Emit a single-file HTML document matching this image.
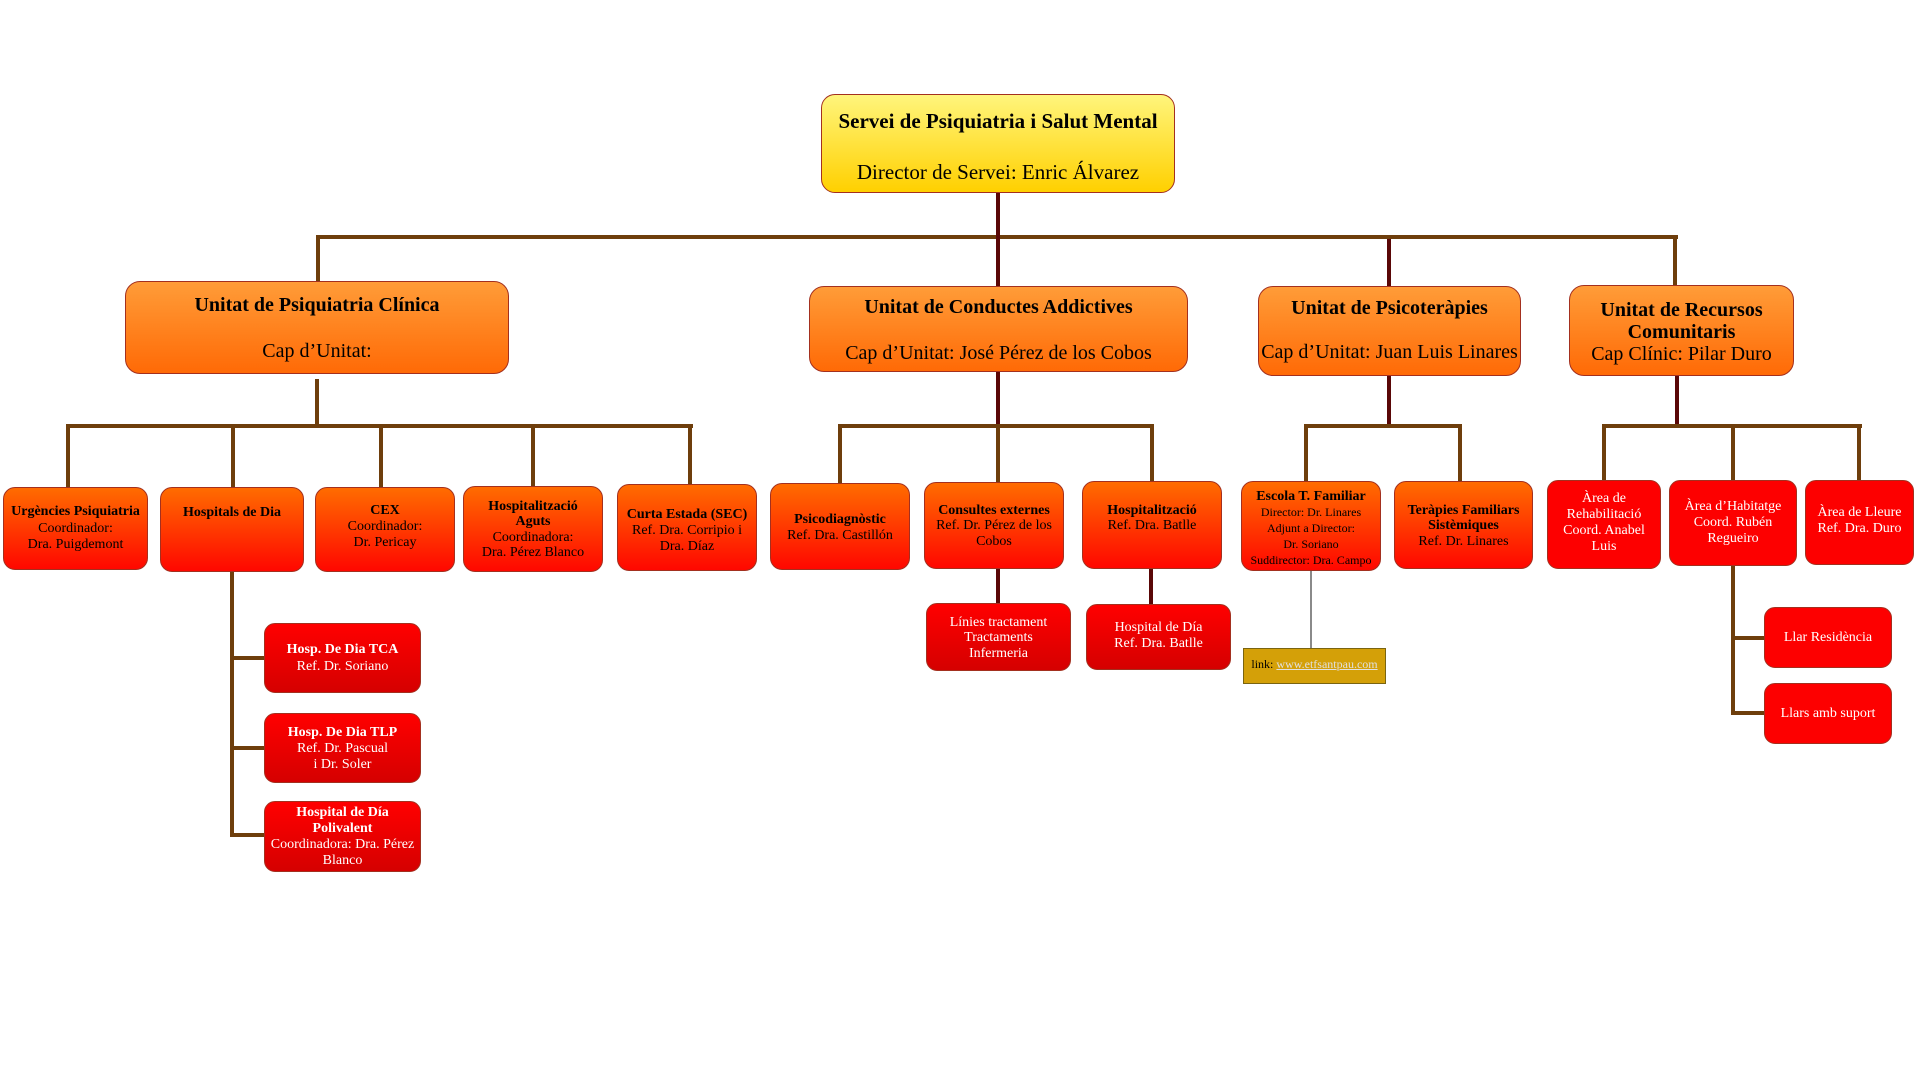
<!DOCTYPE html>
<html>
<head>
<meta charset="utf-8">
<style>
html,body{margin:0;padding:0;background:#fff;}
body{width:1920px;height:1080px;position:relative;overflow:hidden;font-family:"Liberation Serif",serif;}
.b{position:absolute;box-sizing:border-box;border:1px solid #a3301f;text-align:center;white-space:nowrap;color:#000;font-family:"Liberation Serif",serif;}
.top{background:linear-gradient(#fff57c,#ffd000);border-radius:14px;font-size:21px;line-height:25.5px;}
.l1{background:linear-gradient(#ff9c38,#ff6a06);border-radius:15px;font-size:20px;}
.l2{background:linear-gradient(#ff6c00,#ff0700);border-radius:12px;font-size:14px;line-height:16px;}
.rd{background:linear-gradient(#ff0000,#d50000);border-radius:11px;font-size:14px;line-height:16px;color:#fff;}
.rf{background:#fd0000;border-radius:11px;font-size:14px;line-height:16px;color:#fff;}
.ln{position:absolute;}
.B{background:#6e3e0c;}
.M{background:#5a0707;}
b{font-weight:bold;}
.s{font-size:12px;line-height:15.2px;}
</style>
</head>
<body>

<!-- connectors -->
<div class="ln M" style="left:996px;top:193px;width:4px;height:93px;"></div>
<div class="ln B" style="left:316px;top:235px;width:1362px;height:4px;"></div>
<div class="ln B" style="left:316px;top:235px;width:4px;height:46px;"></div>
<div class="ln B" style="left:1673px;top:235px;width:4px;height:50px;"></div>
<div class="ln M" style="left:1387px;top:239px;width:4px;height:47px;"></div>
<div class="ln M" style="left:996px;top:231px;width:4px;height:12px;"></div>

<!-- Psiquiatria children -->
<div class="ln B" style="left:315px;top:379px;width:4px;height:49px;"></div>
<div class="ln B" style="left:66px;top:424px;width:627px;height:4px;"></div>
<div class="ln B" style="left:66px;top:424px;width:4px;height:63px;"></div>
<div class="ln B" style="left:231px;top:424px;width:4px;height:63px;"></div>
<div class="ln B" style="left:379px;top:424px;width:4px;height:63px;"></div>
<div class="ln B" style="left:531px;top:424px;width:4px;height:62px;"></div>
<div class="ln B" style="left:688px;top:424px;width:4px;height:61px;"></div>

<!-- Hospitals de Dia subs -->
<div class="ln B" style="left:230px;top:571px;width:4px;height:266px;"></div>
<div class="ln B" style="left:230px;top:656px;width:35px;height:4px;"></div>
<div class="ln B" style="left:230px;top:746px;width:35px;height:4px;"></div>
<div class="ln B" style="left:230px;top:833px;width:35px;height:4px;"></div>

<!-- Conductes children -->
<div class="ln M" style="left:996px;top:372px;width:4px;height:54px;"></div>
<div class="ln B" style="left:838px;top:424px;width:316px;height:4px;"></div>
<div class="ln B" style="left:838px;top:424px;width:4px;height:59px;"></div>
<div class="ln B" style="left:996px;top:426px;width:4px;height:56px;"></div>
<div class="ln B" style="left:1150px;top:424px;width:4px;height:57px;"></div>
<div class="ln M" style="left:996px;top:568px;width:4px;height:36px;"></div>
<div class="ln M" style="left:1149px;top:568px;width:4px;height:37px;"></div>

<!-- Psicoterapies children -->
<div class="ln M" style="left:1387px;top:375px;width:4px;height:51px;"></div>
<div class="ln B" style="left:1304px;top:424px;width:158px;height:4px;"></div>
<div class="ln B" style="left:1304px;top:424px;width:4px;height:57px;"></div>
<div class="ln B" style="left:1458px;top:424px;width:4px;height:57px;"></div>
<div class="ln" style="left:1310px;top:570px;width:2px;height:79px;background:#8a8a8a;"></div>

<!-- Recursos children -->
<div class="ln M" style="left:1675px;top:375px;width:4px;height:51px;"></div>
<div class="ln B" style="left:1602px;top:424px;width:260px;height:4px;"></div>
<div class="ln B" style="left:1602px;top:424px;width:4px;height:56px;"></div>
<div class="ln B" style="left:1731px;top:424px;width:4px;height:56px;"></div>
<div class="ln B" style="left:1857px;top:424px;width:4px;height:56px;"></div>
<div class="ln B" style="left:1731px;top:565px;width:4px;height:150px;"></div>
<div class="ln B" style="left:1731px;top:636px;width:34px;height:4px;"></div>
<div class="ln B" style="left:1731px;top:711px;width:34px;height:4px;"></div>

<!-- Top box -->
<div class="b top" style="left:821px;top:94px;width:354px;height:99px;padding-top:13.5px;">
<b>Servei de Psiquiatria i Salut Mental</b><br>&nbsp;<br>Director de Servei: Enric Álvarez
</div>

<!-- Level 1 -->
<div class="b l1" style="left:125px;top:281px;width:384px;height:93px;padding-top:11.5px;line-height:23px;">
<b>Unitat de Psiquiatria Clínica</b><br>&nbsp;<br>Cap d’Unitat:
</div>
<div class="b l1" style="left:809px;top:286px;width:379px;height:86px;padding-top:8.5px;line-height:23.3px;">
<b>Unitat de Conductes Addictives</b><br>&nbsp;<br>Cap d’Unitat: José Pérez de los Cobos
</div>
<div class="b l1" style="left:1258px;top:286px;width:263px;height:90px;padding-top:9.5px;line-height:22px;">
<b>Unitat de Psicoteràpies</b><br>&nbsp;<br>Cap d’Unitat: Juan Luis Linares
</div>
<div class="b l1" style="left:1569px;top:285px;width:225px;height:91px;padding-top:12.5px;line-height:22.2px;">
<b>Unitat de Recursos<br>Comunitaris</b><br>Cap Clínic: Pilar Duro
</div>

<!-- Level 2: Psiquiatria -->
<div class="b l2" style="left:3px;top:487px;width:145px;height:83px;padding-top:16px;line-height:16.6px;">
<b>Urgències Psiquiatria</b><br>Coordinador:<br>Dra. Puigdemont
</div>
<div class="b l2" style="left:160px;top:487px;width:144px;height:85px;padding-top:17px;">
<b>Hospitals de Dia</b>
</div>
<div class="b l2" style="left:315px;top:487px;width:140px;height:85px;padding-top:15px;line-height:15.85px;">
<b>CEX</b><br>Coordinador:<br>Dr. Pericay
</div>
<div class="b l2" style="left:463px;top:486px;width:140px;height:86px;padding-top:11.5px;line-height:15.5px;">
<b>Hospitalització<br>Aguts</b><br>Coordinadora:<br>Dra. Pérez Blanco
</div>
<div class="b l2" style="left:617px;top:484px;width:140px;height:87px;padding-top:22px;">
<b>Curta Estada (SEC)</b><br>Ref. Dra. Corripio i<br>Dra. Díaz
</div>

<!-- Level 2: Conductes -->
<div class="b l2" style="left:770px;top:483px;width:140px;height:87px;padding-top:28px;">
<b>Psicodiagnòstic</b><br>Ref. Dra. Castillón
</div>
<div class="b l2" style="left:924px;top:482px;width:140px;height:87px;padding-top:19.5px;line-height:15.85px;">
<b>Consultes externes</b><br>Ref. Dr. Pérez de los<br>Cobos
</div>
<div class="b l2" style="left:1082px;top:481px;width:140px;height:88px;padding-top:20.5px;line-height:15.85px;">
<b>Hospitalització</b><br>Ref. Dra. Batlle
</div>

<!-- Level 2: Psicoterapies -->
<div class="b l2" style="left:1241px;top:481px;width:140px;height:90px;padding-top:6.5px;">
<b>Escola T. Familiar</b><br><span class="s">Director: Dr. Linares<br>Adjunt a Director:<br>Dr. Soriano<br>Suddirector: Dra. Campo</span>
</div>
<div class="b l2" style="left:1394px;top:481px;width:139px;height:88px;padding-top:20.5px;line-height:15.85px;">
<b>Teràpies Familiars<br>Sistèmiques</b><br>Ref. Dr. Linares
</div>

<!-- Level 2: Recursos -->
<div class="b rf" style="left:1547px;top:480px;width:114px;height:89px;padding-top:9.5px;">
Àrea de<br>Rehabilitació<br>Coord. Anabel<br>Luis
</div>
<div class="b rf" style="left:1669px;top:480px;width:128px;height:86px;padding-top:17.5px;">
Àrea d’Habitatge<br>Coord. Rubén<br>Regueiro
</div>
<div class="b rf" style="left:1805px;top:480px;width:109px;height:85px;padding-top:24px;">
Àrea de Lleure<br>Ref. Dra. Duro
</div>

<!-- Sub-level: Hospitals de Dia -->
<div class="b rd" style="left:264px;top:623px;width:157px;height:70px;padding-top:18px;line-height:16.6px;">
<b>Hosp. De Dia TCA</b><br>Ref. Dr. Soriano
</div>
<div class="b rd" style="left:264px;top:713px;width:157px;height:70px;padding-top:11px;">
<b>Hosp. De Dia TLP</b><br>Ref. Dr. Pascual<br>i Dr. Soler
</div>
<div class="b rd" style="left:264px;top:801px;width:157px;height:71px;padding-top:3px;">
<b>Hospital de Día<br>Polivalent</b><br>Coordinadora: Dra. Pérez<br>Blanco
</div>

<!-- Sub-level: Conductes -->
<div class="b rd" style="left:926px;top:603px;width:145px;height:68px;padding-top:10.5px;line-height:15.65px;">
Línies tractament<br>Tractaments<br>Infermeria
</div>
<div class="b rd" style="left:1086px;top:604px;width:145px;height:66px;padding-top:15px;line-height:15.6px;">
Hospital de Día<br>Ref. Dra. Batlle
</div>

<!-- Link box -->
<div class="b" style="left:1243px;top:648px;width:143px;height:36px;background:#d4a008;border:1.5px solid #7a6410;font-size:12px;line-height:15px;padding-top:8px;">
link: <span style="color:#e0e0e0;text-decoration:underline;">www.etfsantpau.com</span>
</div>

<!-- Sub-level: Habitatge -->
<div class="b rf" style="left:1764px;top:607px;width:128px;height:61px;padding-top:22px;">
Llar Residència
</div>
<div class="b rf" style="left:1764px;top:683px;width:128px;height:61px;padding-top:22px;">
Llars amb suport
</div>

</body>
</html>
